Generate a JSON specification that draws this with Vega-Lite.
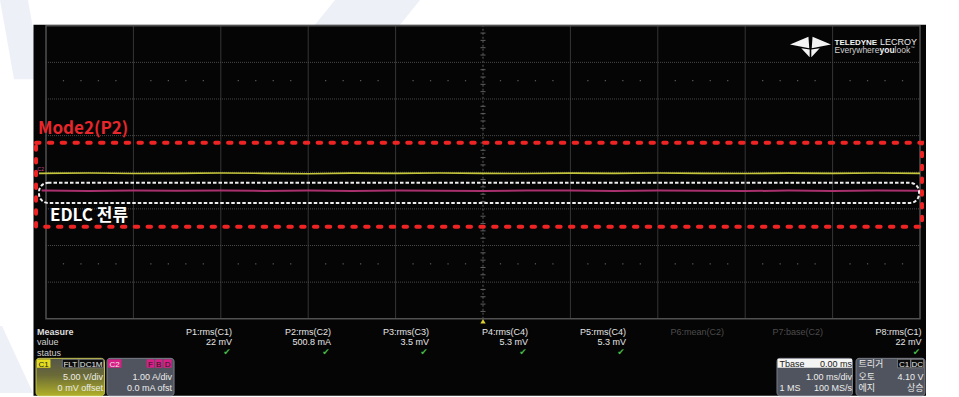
{
 "$schema": "https://vega.github.io/schema/vega-lite/v6.json",
 "width": 959, "height": 397,
 "autosize": {"type": "fit", "contains": "padding"},
 "padding": 0,
 "background": "#ffffff",
 "config": {"view": {"stroke": null}, "text": {"baseline": "alphabetic", "font": "Liberation Sans", "fontSize": 9}},
 "encoding": {
  "x": {"field": "x", "type": "quantitative", "scale": {"domain": [-5.5263, 5.4462], "nice": false, "zero": false}, "axis": null},
  "y": {"field": "y", "type": "quantitative", "scale": {"domain": [-6.027, 4.7027], "nice": false, "zero": false}, "axis": null}
 },
 "layer": [
  {"data": {"values": [
    {"g": 1, "y": 4.7027, "x": -1.6934, "x2": -0.7208}, {"g": 1, "y": 3.892, "x": -1.968, "x2": -0.9954},
    {"g": 2, "y": 4.7027, "x": -5.5263, "x2": -5.2059}, {"g": 2, "y": 2.54, "x": -5.3661, "x2": -5.0458},
    {"g": 3, "y": -4.2, "x": -5.5263, "x2": -5.5034}, {"g": 3, "y": -6.027, "x": -5.5263, "x2": -5.1487}]},
   "mark": {"type": "area", "orient": "horizontal", "color": "#eef0f8", "opacity": 1},
   "encoding": {"x2": {"field": "x2"}, "detail": {"field": "g", "type": "nominal"}}},
  {"data": {"values": [{"x": -5.143, "x2": 5.0686, "y": 4.027, "y2": -6.1}]},
   "mark": {"type": "rect", "color": "#050505"},
   "encoding": {"x2": {"field": "x2"}, "y2": {"field": "y2"}}},
  {"data": {"values": [
    {"x": -4, "y": -4, "y2": 4}, {"x": -3, "y": -4, "y2": 4}, {"x": -2, "y": -4, "y2": 4}, {"x": -1, "y": -4, "y2": 4},
    {"x": 1, "y": -4, "y2": 4}, {"x": 2, "y": -4, "y2": 4}, {"x": 3, "y": -4, "y2": 4}, {"x": 4, "y": -4, "y2": 4}]},
   "mark": {"type": "rule", "color": "#363636", "strokeWidth": 1},
   "encoding": {"y2": {"field": "y2"}}},
  {"data": {"values": [{"x": 0, "y": -4, "y2": 4}]},
   "mark": {"type": "rule", "color": "#5a5a5a", "strokeWidth": 1, "strokeDash": [2, 2]},
   "encoding": {"y2": {"field": "y2"}}},
  {"data": {"values": [
    {"x": -5, "x2": 5, "y": -3}, {"x": -5, "x2": 5, "y": -2}, {"x": -5, "x2": 5, "y": -1}, {"x": -5, "x2": 5, "y": 0},
    {"x": -5, "x2": 5, "y": 1}, {"x": -5, "x2": 5, "y": 2}, {"x": -5, "x2": 5, "y": 3}]},
   "mark": {"type": "rule", "color": "#4a4a4a", "strokeWidth": 1, "strokeDash": [1, 1]},
   "encoding": {"x2": {"field": "x2"}}},
  {"data": {"values": [{"x": -5, "x2": 5, "y": 4, "y2": -4}]},
   "mark": {"type": "rect", "filled": false, "stroke": "#505050", "strokeWidth": 1.5},
   "encoding": {"x2": {"field": "x2"}, "y2": {"field": "y2"}}},
  {"data": {"values": [
    {"x": -4.8, "y": 2.5}, {"x": -4.6, "y": 2.5}, {"x": -4.4, "y": 2.5}, {"x": -4.2, "y": 2.5}, {"x": -3.8, "y": 2.5}, {"x": -3.6, "y": 2.5}, {"x": -3.4, "y": 2.5}, {"x": -3.2, "y": 2.5},
    {"x": -2.8, "y": 2.5}, {"x": -2.6, "y": 2.5}, {"x": -2.4, "y": 2.5}, {"x": -2.2, "y": 2.5}, {"x": -1.8, "y": 2.5}, {"x": -1.6, "y": 2.5}, {"x": -1.4, "y": 2.5}, {"x": -1.2, "y": 2.5},
    {"x": -0.8, "y": 2.5}, {"x": -0.6, "y": 2.5}, {"x": -0.4, "y": 2.5}, {"x": -0.2, "y": 2.5}, {"x": 0.2, "y": 2.5}, {"x": 0.4, "y": 2.5}, {"x": 0.6, "y": 2.5}, {"x": 0.8, "y": 2.5},
    {"x": 1.2, "y": 2.5}, {"x": 1.4, "y": 2.5}, {"x": 1.6, "y": 2.5}, {"x": 1.8, "y": 2.5}, {"x": 2.2, "y": 2.5}, {"x": 2.4, "y": 2.5}, {"x": 2.6, "y": 2.5}, {"x": 2.8, "y": 2.5},
    {"x": 3.2, "y": 2.5}, {"x": 3.4, "y": 2.5}, {"x": 3.6, "y": 2.5}, {"x": 3.8, "y": 2.5}, {"x": 4.2, "y": 2.5}, {"x": 4.4, "y": 2.5}, {"x": 4.6, "y": 2.5}, {"x": 4.8, "y": 2.5},
    {"x": -4.8, "y": -2.5}, {"x": -4.6, "y": -2.5}, {"x": -4.4, "y": -2.5}, {"x": -4.2, "y": -2.5}, {"x": -3.8, "y": -2.5}, {"x": -3.6, "y": -2.5}, {"x": -3.4, "y": -2.5}, {"x": -3.2, "y": -2.5},
    {"x": -2.8, "y": -2.5}, {"x": -2.6, "y": -2.5}, {"x": -2.4, "y": -2.5}, {"x": -2.2, "y": -2.5}, {"x": -1.8, "y": -2.5}, {"x": -1.6, "y": -2.5}, {"x": -1.4, "y": -2.5}, {"x": -1.2, "y": -2.5},
    {"x": -0.8, "y": -2.5}, {"x": -0.6, "y": -2.5}, {"x": -0.4, "y": -2.5}, {"x": -0.2, "y": -2.5}, {"x": 0.2, "y": -2.5}, {"x": 0.4, "y": -2.5}, {"x": 0.6, "y": -2.5}, {"x": 0.8, "y": -2.5},
    {"x": 1.2, "y": -2.5}, {"x": 1.4, "y": -2.5}, {"x": 1.6, "y": -2.5}, {"x": 1.8, "y": -2.5}, {"x": 2.2, "y": -2.5}, {"x": 2.4, "y": -2.5}, {"x": 2.6, "y": -2.5}, {"x": 2.8, "y": -2.5},
    {"x": 3.2, "y": -2.5}, {"x": 3.4, "y": -2.5}, {"x": 3.6, "y": -2.5}, {"x": 3.8, "y": -2.5}, {"x": 4.2, "y": -2.5}, {"x": 4.4, "y": -2.5}, {"x": 4.6, "y": -2.5}, {"x": 4.8, "y": -2.5}]},
   "mark": {"type": "square", "size": 1.5, "color": "#5a5a5a", "opacity": 1}},
  {"data": {"values": [
    {"x": 0, "y": -3.8}, {"x": 0, "y": -3.6}, {"x": 0, "y": -3.4}, {"x": 0, "y": -3.2}, {"x": 0, "y": -2.8}, {"x": 0, "y": -2.6}, {"x": 0, "y": -2.4}, {"x": 0, "y": -2.2},
    {"x": 0, "y": -1.8}, {"x": 0, "y": -1.6}, {"x": 0, "y": -1.4}, {"x": 0, "y": -1.2}, {"x": 0, "y": -0.8}, {"x": 0, "y": -0.6}, {"x": 0, "y": -0.4}, {"x": 0, "y": -0.2},
    {"x": 0, "y": 0.2}, {"x": 0, "y": 0.4}, {"x": 0, "y": 0.6}, {"x": 0, "y": 0.8}, {"x": 0, "y": 1.2}, {"x": 0, "y": 1.4}, {"x": 0, "y": 1.6}, {"x": 0, "y": 1.8},
    {"x": 0, "y": 2.2}, {"x": 0, "y": 2.4}, {"x": 0, "y": 2.6}, {"x": 0, "y": 2.8}, {"x": 0, "y": 3.2}, {"x": 0, "y": 3.4}, {"x": 0, "y": 3.6}, {"x": 0, "y": 3.8}]},
   "mark": {"type": "point", "shape": "M-1,0L1,0", "size": 25, "filled": false, "stroke": "#606060", "strokeWidth": 1, "opacity": 1}},
  {"data": {"values": [
    {"x": -5.08, "y": -0.03}, {"x": -4.5, "y": -0.02}, {"x": -4.0, "y": -0.035}, {"x": -3.5, "y": -0.03}, {"x": -3.0, "y": -0.02}, {"x": -2.5, "y": -0.03}, {"x": -2.0, "y": -0.04},
    {"x": -1.5, "y": -0.025}, {"x": -1.0, "y": -0.03}, {"x": -0.5, "y": -0.02}, {"x": 0.0, "y": -0.03}, {"x": 0.5, "y": -0.035}, {"x": 1.0, "y": -0.025}, {"x": 1.5, "y": -0.03},
    {"x": 2.0, "y": -0.02}, {"x": 2.5, "y": -0.03}, {"x": 3.0, "y": -0.035}, {"x": 3.5, "y": -0.025}, {"x": 4.0, "y": -0.03}, {"x": 4.5, "y": -0.02}, {"x": 5.0, "y": -0.03}]},
   "mark": {"type": "line", "color": "#c6c63c", "strokeWidth": 1.6}},
  {"data": {"values": [
    {"x": -5.05, "y": -0.50}, {"x": -4.5, "y": -0.51}, {"x": -4.0, "y": -0.50}, {"x": -3.5, "y": -0.505}, {"x": -3.0, "y": -0.495}, {"x": -2.5, "y": -0.51}, {"x": -2.0, "y": -0.50},
    {"x": -1.5, "y": -0.515}, {"x": -1.0, "y": -0.50}, {"x": -0.5, "y": -0.505}, {"x": 0.0, "y": -0.51}, {"x": 0.5, "y": -0.50}, {"x": 1.0, "y": -0.495}, {"x": 1.5, "y": -0.51},
    {"x": 2.0, "y": -0.50}, {"x": 2.5, "y": -0.505}, {"x": 3.0, "y": -0.515}, {"x": 3.5, "y": -0.50}, {"x": 4.0, "y": -0.51}, {"x": 4.5, "y": -0.50}, {"x": 5.0, "y": -0.505}]},
   "mark": {"type": "line", "color": "#a8306c", "strokeWidth": 2}},
  {"data": {"values": [{"x": -5.097, "y": 0.03, "t": "C2"}]},
   "mark": {"type": "text", "fontSize": 5, "color": "#c84890", "align": "left"},
   "encoding": {"text": {"field": "t"}}},
  {"data": {"values": [{"x": -5.114, "x2": 5.023, "y": 0.803, "y2": -1.486}]},
   "mark": {"type": "rect", "filled": false, "stroke": "#ee2424", "strokeWidth": 4, "strokeDash": [3.5, 9.3], "strokeCap": "round"},
   "encoding": {"x2": {"field": "x2"}, "y2": {"field": "y2"}}},
  {"data": {"values": [{"x": -5.08, "x2": 4.989, "y": -0.289, "y2": -0.838}]},
   "mark": {"type": "rect", "filled": false, "stroke": "#eeeeee", "strokeWidth": 2, "strokeDash": [3.5, 2], "cornerRadius": 9},
   "encoding": {"x2": {"field": "x2"}, "y2": {"field": "y2"}}},
  {"data": {"values": [{"x": -5.092, "y": 1.054, "t": "Mode2(P2)"}]},
   "mark": {"type": "text", "font": "Noto Sans CJK KR", "fontWeight": "bold", "fontSize": 17, "color": "#e8262c", "align": "left"},
   "encoding": {"text": {"field": "t"}}},
  {"data": {"values": [{"x": -4.954, "y": -1.324, "t": "EDLC 전류"}]},
   "mark": {"type": "text", "font": "Noto Sans CJK KR", "fontWeight": "bold", "fontSize": 17, "color": "#ffffff", "align": "left"},
   "encoding": {"text": {"field": "t"}}},
  {"data": {"values": [{"x": 3.747, "y": 3.419}]},
   "mark": {"type": "point", "shape": "M-1,-0.12L-0.1,-0.5L-0.06,0.06Z M1,-0.12L0.1,-0.5L0.06,0.06Z M-0.45,0.06L-0.04,0.12L-0.04,0.5Z M0.45,0.06L0.04,0.12L0.04,0.5Z", "size": 1681, "filled": true, "color": "#f4f4f4", "opacity": 1, "strokeWidth": 0}},
  {"data": {"values": [{"x": 4.022, "y": 3.481, "t": "TELEDYNE"}]},
   "mark": {"type": "text", "fontWeight": "bold", "fontSize": 8, "color": "#f2f2f2", "align": "left"},
   "encoding": {"text": {"field": "t"}}},
  {"data": {"values": [{"x": 4.966, "y": 3.481, "t": "LECROY"}]},
   "mark": {"type": "text", "fontSize": 9, "color": "#e8e8e8", "align": "right"},
   "encoding": {"text": {"field": "t"}}},
  {"data": {"values": [{"x": 4.022, "y": 3.243, "t": "Everywhere"}, {"x": 4.709, "y": 3.243, "t": "look"}]},
   "mark": {"type": "text", "fontSize": 8.5, "color": "#cfcfcf", "align": "left"},
   "encoding": {"text": {"field": "t"}}},
  {"data": {"values": [{"x": 4.537, "y": 3.243, "t": "you"}]},
   "mark": {"type": "text", "fontSize": 8.5, "fontWeight": "bold", "color": "#f0f0f0", "align": "left"},
   "encoding": {"text": {"field": "t"}}},
  {"data": {"values": [{"x": 4.891, "y": 3.36, "t": "™"}]},
   "mark": {"type": "text", "fontSize": 4, "color": "#cfcfcf", "align": "left"},
   "encoding": {"text": {"field": "t"}}},
  {"data": {"values": [{"x": 0, "y": -4.068}]},
   "mark": {"type": "point", "shape": "triangle-up", "size": 28, "filled": true, "color": "#e0d030", "opacity": 1}},
  {"data": {"name": "meas", "values": [
    {"x": -5.103, "y": -4.432, "t": "Measure", "st": "head"},
    {"x": -5.103, "y": -4.730, "t": "value", "st": "left"},
    {"x": -5.103, "y": -5.019, "t": "status", "st": "left"},
    {"x": -2.872, "y": -4.432, "t": "P1:rms(C1)", "st": "on"},
    {"x": -1.739, "y": -4.432, "t": "P2:rms(C2)", "st": "on"},
    {"x": -0.618, "y": -4.432, "t": "P3:rms(C3)", "st": "on"},
    {"x": 0.515, "y": -4.432, "t": "P4:rms(C4)", "st": "on"},
    {"x": 1.636, "y": -4.432, "t": "P5:rms(C4)", "st": "on"},
    {"x": 2.757, "y": -4.432, "t": "P6:mean(C2)", "st": "off"},
    {"x": 3.890, "y": -4.432, "t": "P7:base(C2)", "st": "off"},
    {"x": 5.017, "y": -4.432, "t": "P8:rms(C1)", "st": "on"},
    {"x": -2.872, "y": -4.730, "t": "22 mV", "st": "on"},
    {"x": -1.739, "y": -4.730, "t": "500.8 mA", "st": "on"},
    {"x": -0.618, "y": -4.730, "t": "3.5 mV", "st": "on"},
    {"x": 0.515, "y": -4.730, "t": "5.3 mV", "st": "on"},
    {"x": 1.636, "y": -4.730, "t": "5.3 mV", "st": "on"},
    {"x": 5.017, "y": -4.730, "t": "22 mV", "st": "on"},
    {"x": -2.872, "y": -5.0, "t": "✔", "st": "chk"},
    {"x": -1.739, "y": -5.0, "t": "✔", "st": "chk"},
    {"x": -0.618, "y": -5.0, "t": "✔", "st": "chk"},
    {"x": 0.515, "y": -5.0, "t": "✔", "st": "chk"},
    {"x": 1.636, "y": -5.0, "t": "✔", "st": "chk"},
    {"x": 5.017, "y": -5.0, "t": "✔", "st": "chk"}]},
   "transform": [{"filter": "datum.st == 'on'"}],
   "mark": {"type": "text", "fontSize": 9, "color": "#e6e6e6", "align": "right"},
   "encoding": {"text": {"field": "t"}}},
  {"data": {"name": "meas"}, "transform": [{"filter": "datum.st == 'off'"}],
   "mark": {"type": "text", "fontSize": 9, "color": "#4c4c4c", "align": "right"},
   "encoding": {"text": {"field": "t"}}},
  {"data": {"name": "meas"}, "transform": [{"filter": "datum.st == 'head'"}],
   "mark": {"type": "text", "fontSize": 9, "fontWeight": "bold", "color": "#dddddd", "align": "left"},
   "encoding": {"text": {"field": "t"}}},
  {"data": {"name": "meas"}, "transform": [{"filter": "datum.st == 'left'"}],
   "mark": {"type": "text", "fontSize": 9, "color": "#d0d0d0", "align": "left"},
   "encoding": {"text": {"field": "t"}}},
  {"data": {"name": "meas"}, "transform": [{"filter": "datum.st == 'chk'"}],
   "mark": {"type": "text", "font": "DejaVu Sans", "fontSize": 9, "color": "#46b846", "align": "center", "dx": -5},
   "encoding": {"text": {"field": "t"}}},
  {"data": {"values": [{"x": -5.114, "x2": -4.331, "y": -5.081, "y2": -6.1}]},
   "mark": {"type": "rect", "cornerRadius": 3, "stroke": "#c4c44c", "strokeWidth": 1,
    "fill": {"gradient": "linear", "x1": 0, "y1": 0, "x2": 0, "y2": 1, "stops": [{"offset": 0, "color": "#55554a"}, {"offset": 0.45, "color": "#6a6a38"}, {"offset": 1, "color": "#b0b028"}]}},
   "encoding": {"x2": {"field": "x2"}, "y2": {"field": "y2"}}},
  {"data": {"values": [{"x": -4.302, "x2": -3.535, "y": -5.081, "y2": -6.1}, {"x": 3.364, "x2": 4.228, "y": -5.081, "y2": -6.1}, {"x": 4.268, "x2": 5.057, "y": -5.081, "y2": -6.1}]},
   "mark": {"type": "rect", "cornerRadius": 3, "fill": "#50545e", "stroke": "#7a7e88", "strokeWidth": 1},
   "encoding": {"x2": {"field": "x2"}, "y2": {"field": "y2"}}},
  {"data": {"values": [{"x": -5.103, "x2": -4.949, "y": -5.108, "y2": -5.338}]},
   "mark": {"type": "rect", "fill": "#e4de1e"},
   "encoding": {"x2": {"field": "x2"}, "y2": {"field": "y2"}}},
  {"data": {"values": [{"x": -4.291, "x2": -4.136, "y": -5.108, "y2": -5.338}, {"x": -3.848, "x2": -3.764, "y": -5.108, "y2": -5.338}, {"x": -3.753, "x2": -3.667, "y": -5.108, "y2": -5.338}, {"x": -3.656, "x2": -3.562, "y": -5.108, "y2": -5.338}]},
   "mark": {"type": "rect", "fill": "#d81f86"},
   "encoding": {"x2": {"field": "x2"}, "y2": {"field": "y2"}}},
  {"data": {"values": [{"x": -4.813, "x2": -4.63, "y": -5.108, "y2": -5.338}, {"x": -4.622, "x2": -4.344, "y": -5.108, "y2": -5.338}, {"x": 4.743, "x2": 4.891, "y": -5.108, "y2": -5.338}, {"x": 4.897, "x2": 5.04, "y": -5.108, "y2": -5.338}]},
   "mark": {"type": "rect", "fill": "#0c0c0c", "stroke": "#9a9a9a", "strokeWidth": 0.6},
   "encoding": {"x2": {"field": "x2"}, "y2": {"field": "y2"}}},
  {"data": {"values": [{"x": 3.37, "x2": 4.222, "y": -5.095, "y2": -5.338}]},
   "mark": {"type": "rect", "fill": "#f4f4f4"},
   "encoding": {"x2": {"field": "x2"}, "y2": {"field": "y2"}}},
  {"data": {"values": [
    {"x": -5.028, "y": -5.311, "t": "C1"}, {"x": -3.806, "y": -5.311, "t": "F"}, {"x": -3.71, "y": -5.311, "t": "B"}, {"x": -3.609, "y": -5.311, "t": "D"}]},
   "mark": {"type": "text", "fontSize": 8, "color": "#1c1c1c", "align": "center"},
   "encoding": {"text": {"field": "t"}}},
  {"data": {"values": [
    {"x": -4.722, "y": -5.311, "t": "FLT"}, {"x": -4.483, "y": -5.311, "t": "DC1M"}, {"x": -4.214, "y": -5.311, "t": "C2"}, {"x": 4.817, "y": -5.311, "t": "C1"}, {"x": 4.969, "y": -5.311, "t": "DC"}]},
   "mark": {"type": "text", "fontSize": 8, "color": "#e8e8e8", "align": "center"},
   "encoding": {"text": {"field": "t"}}},
  {"data": {"values": [{"x": 3.392, "y": -5.311, "t": "Tbase"}]},
   "mark": {"type": "text", "fontSize": 9, "color": "#202020", "align": "left"},
   "encoding": {"text": {"field": "t"}}},
  {"data": {"values": [{"x": 4.222, "y": -5.311, "t": "0.00 ms"}]},
   "mark": {"type": "text", "fontSize": 9, "color": "#202020", "align": "right"},
   "encoding": {"text": {"field": "t"}}},
  {"data": {"values": [
    {"x": -4.348, "y": -5.663, "t": "5.00 V/div"}, {"x": -4.348, "y": -5.959, "t": "0 mV offset"},
    {"x": -3.558, "y": -5.663, "t": "1.00 A/div"}, {"x": -3.558, "y": -5.959, "t": "0.0 mA ofst"},
    {"x": 4.222, "y": -5.663, "t": "1.00 ms/div"}, {"x": 4.222, "y": -5.959, "t": "100 MS/s"},
    {"x": 5.04, "y": -5.663, "t": "4.10 V"}, {"x": 5.04, "y": -5.959, "t": "상승"}]},
   "mark": {"type": "text", "font": "Liberation Sans, Noto Sans CJK KR", "fontSize": 9, "color": "#ececec", "align": "right"},
   "encoding": {"text": {"field": "t"}}},
  {"data": {"values": [
    {"x": 3.392, "y": -5.959, "t": "1 MS"}, {"x": 4.296, "y": -5.311, "t": "트리거"}, {"x": 4.296, "y": -5.663, "t": "오토"}, {"x": 4.296, "y": -5.959, "t": "에지"}]},
   "mark": {"type": "text", "font": "Liberation Sans, Noto Sans CJK KR", "fontSize": 9, "color": "#ececec", "align": "left"},
   "encoding": {"text": {"field": "t"}}}
 ]
}
